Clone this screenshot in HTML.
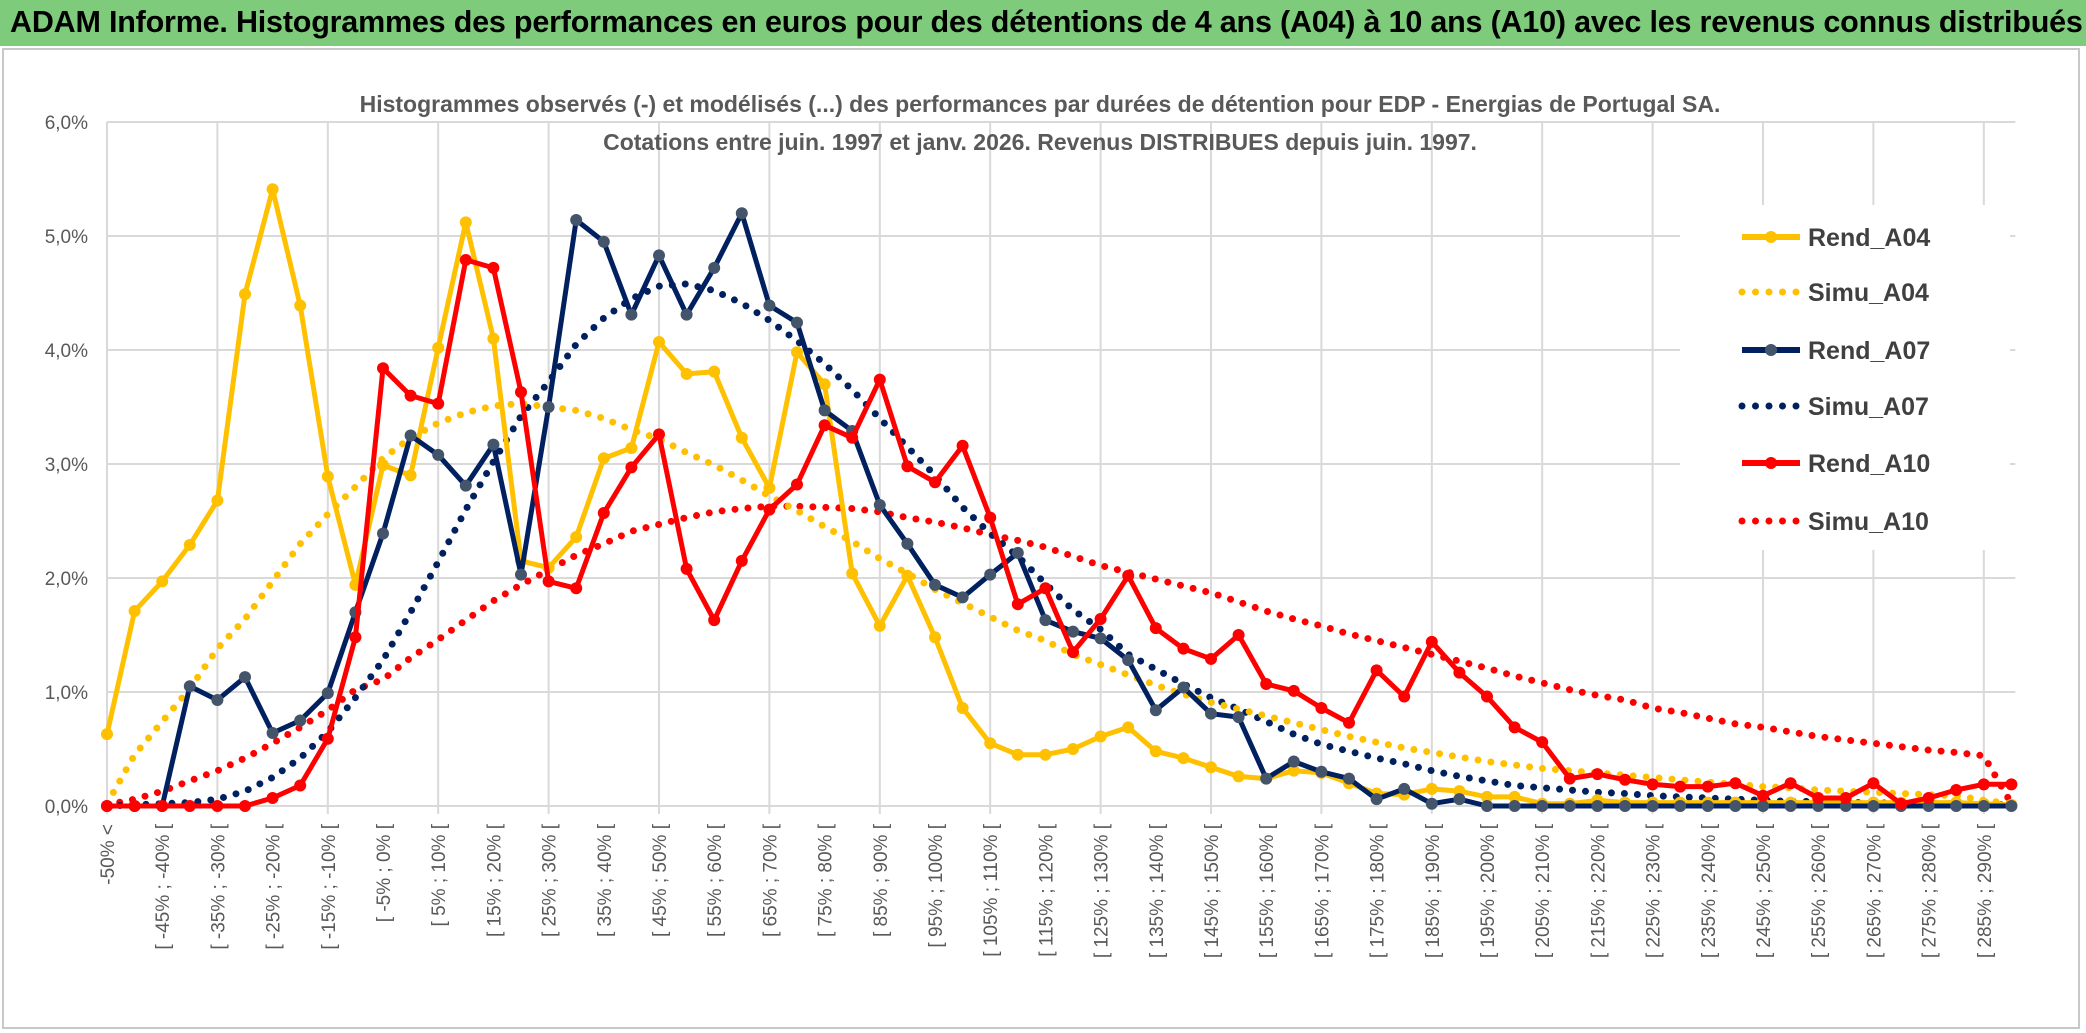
<!DOCTYPE html>
<html><head><meta charset="utf-8"><style>
html,body{margin:0;padding:0;background:#fff;}
body{width:2086px;height:1033px;overflow:hidden;position:relative;font-family:"Liberation Sans",sans-serif;}
#titlebar{position:absolute;left:0;top:0;width:2086px;height:46px;background:#7fcb7c;}
#titlebar span{position:absolute;left:10px;top:5px;font-size:30.5px;font-weight:bold;color:#000;white-space:nowrap;letter-spacing:-0.2px;}
#frame{position:absolute;left:2px;top:48px;width:2078px;height:981px;border:2px solid #c8c8c8;box-sizing:border-box;}
</style></head><body>
<div id="titlebar"><span>ADAM Informe. Histogrammes des performances en euros pour des détentions de 4 ans (A04) à 10 ans (A10) avec les revenus connus distribués</span></div>
<div id="frame"></div>
<svg id="chart" width="2086" height="1033" style="position:absolute;left:0;top:0" xmlns="http://www.w3.org/2000/svg"></svg>
<script>
const categories=[];
const lowBounds=[-50,-45,-40,-35,-30,-25,-20,-15,-10,-5,0,5,10,15,20,25,30,35,40,45,50,55,60,65,70,75,80,85,90,95,100,105,110,115,120,125,130,135,140,145,150,155,160,165,170,175,180,185,190,195,200,205,210,215,220,225,230,235,240,245,250,255,260,265,270,275,280,285,290];
const rendA04=[0.63,1.71,1.97,2.29,2.68,4.49,5.41,4.39,2.89,1.94,2.99,2.9,4.02,5.12,4.1,2.15,2.09,2.36,3.05,3.14,4.07,3.79,3.81,3.23,2.79,3.98,3.7,2.04,1.58,2.02,1.48,0.86,0.55,0.45,0.45,0.5,0.61,0.69,0.48,0.42,0.34,0.26,0.24,0.31,0.29,0.2,0.11,0.1,0.15,0.13,0.08,0.08,0.02,0.02,0.05,0.03,0.03,0.03,0.03,0.03,0.03,0.03,0.03,0.03,0.03,0.03,0.03,0.03,0.02,0.01];
const simuA04=[0.02,0.45,0.74,1.03,1.38,1.64,1.97,2.3,2.56,2.8,3.05,3.23,3.36,3.45,3.51,3.53,3.5,3.47,3.4,3.3,3.22,3.1,2.99,2.86,2.72,2.59,2.45,2.32,2.17,2.04,1.9,1.78,1.66,1.54,1.45,1.33,1.24,1.15,1.06,0.98,0.91,0.85,0.79,0.73,0.67,0.61,0.56,0.51,0.47,0.43,0.39,0.36,0.33,0.31,0.29,0.27,0.25,0.23,0.21,0.19,0.17,0.16,0.14,0.13,0.12,0.11,0.1,0.09,0.05,0.02];
const rendA07=[0,0,0,1.05,0.93,1.13,0.64,0.75,0.99,1.7,2.39,3.25,3.08,2.81,3.17,2.03,3.5,5.14,4.95,4.31,4.83,4.31,4.72,5.2,4.39,4.24,3.47,3.29,2.64,2.3,1.94,1.83,2.03,2.22,1.63,1.53,1.47,1.28,0.84,1.04,0.81,0.78,0.24,0.39,0.3,0.24,0.06,0.15,0.02,0.06,0,0,0,0,0,0,0,0,0,0,0,0,0,0,0,0,0,0,0,0];
const simuA07=[0,0.01,0.02,0.03,0.06,0.13,0.25,0.42,0.65,0.95,1.28,1.7,2.14,2.6,3.02,3.42,3.72,4.05,4.28,4.45,4.56,4.58,4.52,4.41,4.26,4.08,3.88,3.65,3.4,3.15,2.9,2.62,2.39,2.19,1.95,1.72,1.55,1.33,1.2,1.07,0.95,0.85,0.74,0.63,0.54,0.48,0.42,0.37,0.31,0.26,0.22,0.18,0.16,0.14,0.12,0.11,0.09,0.08,0.07,0.06,0.05,0.04,0.04,0.03,0.03,0.02,0.02,0.02,0.01,0.01];
const rendA10=[0,0,0,0,0,0,0.07,0.18,0.59,1.48,3.84,3.6,3.53,4.79,4.72,3.63,1.97,1.91,2.57,2.97,3.26,2.08,1.63,2.15,2.6,2.82,3.34,3.23,3.74,2.98,2.84,3.16,2.53,1.77,1.91,1.35,1.64,2.02,1.56,1.38,1.29,1.5,1.07,1.01,0.86,0.73,1.19,0.96,1.44,1.17,0.96,0.69,0.56,0.24,0.28,0.23,0.19,0.17,0.17,0.2,0.09,0.2,0.07,0.07,0.2,0.02,0.07,0.14,0.19,0.19];
const simuA10=[0.01,0.06,0.13,0.22,0.31,0.42,0.55,0.69,0.84,1.02,1.11,1.3,1.46,1.63,1.8,1.94,2.07,2.2,2.3,2.41,2.47,2.53,2.58,2.61,2.63,2.63,2.62,2.61,2.58,2.53,2.49,2.44,2.38,2.33,2.27,2.19,2.11,2.05,1.99,1.93,1.87,1.79,1.71,1.64,1.58,1.51,1.45,1.39,1.33,1.27,1.21,1.14,1.08,1.02,0.97,0.93,0.86,0.82,0.77,0.72,0.69,0.65,0.61,0.58,0.55,0.52,0.49,0.47,0.44,0.02];
const yTicks=[0,1,2,3,4,5,6];
const legendNames=["Rend_A04","Simu_A04","Rend_A07","Simu_A07","Rend_A10","Simu_A10"];

categories.push("-50% <");
for(let k=1;k<lowBounds.length;k++){categories.push("[ "+lowBounds[k-1]+"% ; "+lowBounds[k]+"% [");}
categories.push("290% >");

const NS="http://www.w3.org/2000/svg";
const svg=document.getElementById('chart');
const X0=107, DX=27.6, Y0=806, DY=114;
function xs(i){return X0+DX*i;}
function ys(v){return Y0-DY*v;}
function mk(tag,attrs,parent){const e=document.createElementNS(NS,tag);for(const k in attrs)e.setAttribute(k,attrs[k]);(parent||svg).appendChild(e);return e;}

const n=rendA04.length;
for(const t of yTicks){
  const g=mk('line',{x1:xs(0),x2:xs(n-1)+4,y1:ys(t),y2:ys(t),stroke:'#d9d9d9','stroke-width':2});
  
  
  const lb=mk('text',{x:88,y:ys(t)+7,'text-anchor':'end','font-size':19,fill:'#595959','font-family':'Liberation Sans, sans-serif'});
  lb.textContent=t.toFixed(1).replace('.',',')+'%';
  
  
}
for(let i=0;i<n;i+=4){
  const g=mk('line',{x1:xs(i),x2:xs(i),y1:ys(6),y2:ys(0)+8,stroke:'#d9d9d9','stroke-width':2});
  
  
}
for(let i=0;i<n;i+=2){
  const t=mk('text',{transform:'translate('+(xs(i)+7)+','+(ys(0)+18)+') rotate(-90)','text-anchor':'end','font-size':19,fill:'#595959','font-family':'Liberation Sans, sans-serif'});
  t.textContent=categories[i];
  
  
}
const st1=mk('text',{x:1040,y:112,'text-anchor':'middle','font-size':23,'font-weight':'bold',fill:'#595959','font-family':'Liberation Sans, sans-serif'});
st1.textContent='Histogrammes observés (-) et modélisés (...) des performances par durées de détention pour EDP - Energias de Portugal SA.';


const st2=mk('text',{x:1040,y:150,'text-anchor':'middle','font-size':23,'font-weight':'bold',fill:'#595959','font-family':'Liberation Sans, sans-serif'});
st2.textContent='Cotations entre juin. 1997 et janv. 2026. Revenus DISTRIBUES depuis juin. 1997.';



function pts(arr){return arr.map((v,i)=>xs(i).toFixed(1)+','+ys(v).toFixed(1)).join(' ');}
function dotted(arr,color,name){
  const p=mk('polyline',{points:pts(arr),fill:'none',stroke:color,'stroke-width':7,'stroke-linecap':'round','stroke-dasharray':'0 13'});
  
  
}
function solid(arr,color,mcolor,name){
  const g=mk('g',{});
  
  
  mk('polyline',{points:pts(arr),fill:'none',stroke:color,'stroke-width':5,'stroke-linejoin':'round'},g);
  arr.forEach((v,i)=>{
    const c=mk('circle',{cx:xs(i),cy:ys(v),r:6,fill:mcolor},g);
    
    
  });
}
dotted(simuA10,'#ff0000','series-simu-a10');
dotted(simuA07,'#002060','series-simu-a07');
dotted(simuA04,'#ffc000','series-simu-a04');
solid(rendA04,'#ffc000','#ffc000','series-rend-a04');
solid(rendA07,'#002060','#44546a','series-rend-a07');
solid(rendA10,'#ff0000','#ff0000','series-rend-a10');

const lg=mk('g',{});


mk('rect',{x:1680,y:205,width:330,height:345,fill:'#fff'},lg);
const lcolors=['#ffc000','#ffc000','#002060','#002060','#ff0000','#ff0000'];
const lys=[237,292,350,406,463,521];
legendNames.forEach((nm,k)=>{
  const y=lys[k];
  if(k%2===0){
    mk('line',{x1:1742,x2:1800,y1:y,y2:y,stroke:lcolors[k],'stroke-width':6},lg);
    mk('circle',{cx:1771,cy:y,r:6,fill:k===2?'#44546a':lcolors[k]},lg);
  } else {
    mk('line',{x1:1742,x2:1800,y1:y,y2:y,stroke:lcolors[k],'stroke-width':7,'stroke-linecap':'round','stroke-dasharray':'0 13.5'},lg);
  }
  const t=mk('text',{x:1808,y:y+9,'font-size':25,'font-weight':'bold',fill:'#404040','font-family':'Liberation Sans, sans-serif'},lg);
  t.textContent=nm;
  
  
});
</script>
</body></html>
